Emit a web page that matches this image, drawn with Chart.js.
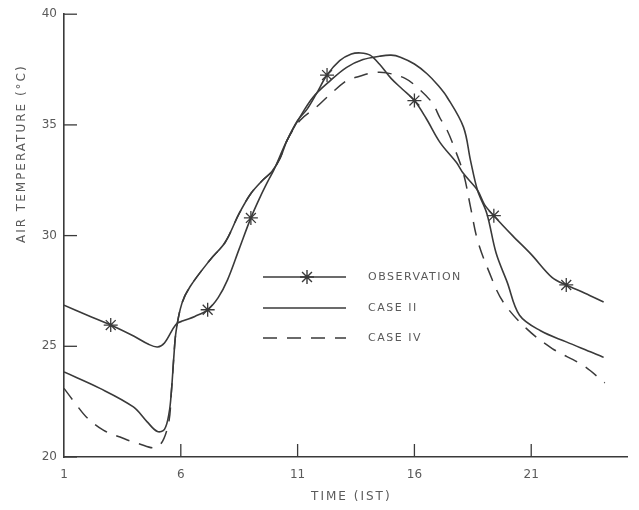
<!DOCTYPE html>
<html>
<head>
<meta charset="utf-8">
<script src="https://cdn.jsdelivr.net/npm/chart.js@4/dist/chart.umd.min.js"></script>
<style>
  body { margin: 0; background: #fff; }
  #wrap { width: 639px; height: 510px; }
</style>
</head>
<body>
<div id="wrap"><canvas id="chart" width="639" height="510"></canvas></div>
<script>
// hours (IST) and air temperature (deg C)
const obsHours = [1, 2, 3, 4, 4.6, 5.0, 5.3, 5.8, 6.1, 6.6, 7.15, 7.6, 8.0, 8.5, 9.0, 9.4, 9.75, 10.0, 10.5, 11.0, 11.4, 11.8, 12.26, 12.8, 13.3, 13.7, 14.1, 14.5, 15.0, 15.5, 16.0, 16.5, 17.1, 17.8, 18.1, 18.7, 19.0, 19.4, 20.2, 21.0, 21.9, 22.5, 23.3, 24.1];
const obsTemp = [26.86, 26.4, 25.96, 25.45, 25.1, 24.97, 25.15, 26.0, 26.15, 26.35, 26.65, 27.2, 28.0, 29.4, 30.8, 31.75, 32.5, 33.0, 34.2, 35.2, 35.7, 36.4, 37.25, 37.9, 38.2, 38.25, 38.15, 37.75, 37.1, 36.6, 36.1, 35.3, 34.2, 33.3, 32.8, 32.05, 31.4, 30.9, 30.0, 29.15, 28.1, 27.77, 27.4, 27.0];
const obsStarHours = [3, 7.15, 9.0, 12.26, 16.0, 19.4, 22.5];

const case2Hours = [1, 2.54, 3.97, 4.55, 5.0, 5.3, 5.5, 5.6, 5.7, 5.8, 6.05, 6.4, 7.25, 7.9, 8.5, 9.0, 9.5, 9.9, 10.25, 10.55, 11.1, 11.66, 12.4, 13.1, 13.8, 14.5, 15.0, 15.4, 16.0, 16.55, 17.0, 17.4, 18.1, 18.4, 18.7, 19.1, 19.5, 19.97, 20.5, 21.4, 22.5, 23.66, 24.1];
const case2Temp = [23.84, 23.1, 22.26, 21.6, 21.15, 21.25, 22.0, 23.0, 24.5, 25.7, 26.95, 27.7, 28.9, 29.7, 31.0, 31.9, 32.5, 32.9, 33.5, 34.3, 35.35, 36.25, 37.0, 37.6, 37.95, 38.1, 38.15, 38.06, 37.75, 37.3, 36.8, 36.25, 34.9, 33.4, 32.05, 31.0, 29.2, 27.9, 26.4, 25.7, 25.2, 24.7, 24.5];

const case4Hours = [1, 1.5, 2.0, 2.7, 3.4, 4.2, 5.0, 5.45, 5.6, 5.7, 5.8, 6.05, 6.4, 7.25, 7.9, 8.5, 9.0, 9.5, 9.9, 10.25, 10.55, 11.1, 11.8, 12.26, 13.1, 13.55, 14.2, 14.8, 15.6, 16.16, 16.76, 17.1, 17.4, 17.66, 18.1, 18.4, 18.7, 19.2, 19.8, 20.8, 21.9, 23.2, 24.15];
const case4Temp = [23.1, 22.4, 21.76, 21.2, 20.9, 20.6, 20.45, 21.4, 23.0, 24.5, 25.7, 26.95, 27.7, 28.9, 29.7, 31.0, 31.9, 32.5, 32.9, 33.5, 34.3, 35.2, 35.8, 36.25, 37.0, 37.16, 37.35, 37.35, 37.1, 36.66, 36.0, 35.3, 34.76, 34.1, 32.8, 31.3, 29.8, 28.35, 27.0, 25.8, 24.9, 24.15, 23.35];

const xTicks = [1, 6, 11, 16, 21];
const yTicks = [20, 25, 30, 35, 40];
const seriesLabels = ['OBSERVATION', 'CASE II', 'CASE IV'];

const ink = '#3a3a3a';
const textInk = '#5a5a5a';
const font = '"DejaVu Sans", sans-serif';

const pts = (xs, ys) => xs.map((x, i) => ({ x: x, y: ys[i] }));

// ticks point inward, titles and legend sit where the figure has them
const paperDecor = {
  id: 'paperDecor',
  afterDraw(chart) {
    const { ctx, chartArea, scales } = chart;
    const xs = scales.x, ys = scales.y;
    ctx.save();
    ctx.strokeStyle = ink;
    ctx.lineWidth = 1.3;
    yTicks.forEach(v => {
      const py = ys.getPixelForValue(v);
      ctx.beginPath(); ctx.moveTo(chartArea.left, py); ctx.lineTo(chartArea.left + 13, py); ctx.stroke();
    });
    xTicks.slice(1).forEach(v => {
      const px = xs.getPixelForValue(v);
      ctx.beginPath(); ctx.moveTo(px, chartArea.bottom); ctx.lineTo(px, chartArea.bottom - 13); ctx.stroke();
    });

    ctx.fillStyle = textInk;
    ctx.font = '12px ' + font;
    ctx.letterSpacing = '2px';
    ctx.textAlign = 'center';
    ctx.textBaseline = 'middle';
    ctx.fillText('TIME (IST)', xs.getPixelForValue(13.3), 497);
    ctx.save();
    ctx.translate(22, ys.getPixelForValue(33.7));
    ctx.rotate(-Math.PI / 2);
    ctx.fillText('AIR TEMPERATURE (°C)', 0, 0);
    ctx.restore();

    // legend
    const rows = [277, 308, 338];
    const x0 = 263, x1 = 346;
    chart.data.datasets.forEach((ds, i) => {
      const y = rows[i];
      ctx.strokeStyle = ds.borderColor;
      ctx.lineWidth = ds.borderWidth;
      ctx.setLineDash(ds.borderDash || []);
      ctx.beginPath(); ctx.moveTo(x0, y); ctx.lineTo(x1, y); ctx.stroke();
      ctx.setLineDash([]);
      if (i === 0) {
        const r = 7;
        ctx.lineWidth = 1.4;
        ctx.beginPath();
        for (let k = 0; k < 4; k++) {
          const a = k * Math.PI / 4;
          ctx.moveTo(307 - r * Math.cos(a), y - r * Math.sin(a));
          ctx.lineTo(307 + r * Math.cos(a), y + r * Math.sin(a));
        }
        ctx.stroke();
      }
      ctx.fillStyle = textInk;
      ctx.font = '11px ' + font;
      ctx.letterSpacing = '1.5px';
      ctx.textAlign = 'left';
      ctx.fillText(ds.label, 368, y);
    });
    ctx.restore();
  }
};

new Chart(document.getElementById('chart'), {
  type: 'line',
  data: {
    datasets: [
      {
        label: seriesLabels[0],
        data: pts(obsHours, obsTemp),
        borderColor: ink,
        borderWidth: 1.6,
        tension: 0.35,
        pointStyle: 'star',
        pointRadius: c => (c.raw && obsStarHours.includes(c.raw.x)) ? 7 : 0,
        pointBorderColor: ink,
        pointBorderWidth: 1.3,
        fill: false
      },
      {
        label: seriesLabels[1],
        data: pts(case2Hours, case2Temp),
        borderColor: ink,
        borderWidth: 1.6,
        tension: 0.35,
        pointRadius: 0,
        fill: false
      },
      {
        label: seriesLabels[2],
        data: pts(case4Hours, case4Temp),
        borderColor: ink,
        borderWidth: 1.5,
        borderDash: [14, 10],
        tension: 0.35,
        pointRadius: 0,
        fill: false
      }
    ]
  },
  options: {
    responsive: false,
    animation: false,
    layout: { padding: { top: 14, right: 12, left: 0, bottom: 0 } },
    plugins: { legend: { display: false }, tooltip: { enabled: false } },
    scales: {
      x: {
        type: 'linear',
        min: 1,
        max: 25.1,
        afterBuildTicks: s => { s.ticks = xTicks.map(v => ({ value: v })); },
        afterFit: s => { s.height = 53; },
        grid: { display: true, drawOnChartArea: false, drawTicks: false },
        border: { display: true, color: ink, width: 1.6 },
        ticks: { color: textInk, font: { family: font, size: 12 }, padding: 11, maxRotation: 0 }
      },
      y: {
        min: 20,
        max: 40,
        afterBuildTicks: s => { s.ticks = yTicks.map(v => ({ value: v })); },
        afterFit: s => { s.width = 64; },
        grid: { display: true, drawOnChartArea: false, drawTicks: false },
        border: { display: true, color: ink, width: 1.6 },
        ticks: { color: textInk, font: { family: font, size: 12 }, padding: 7 }
      }
    }
  },
  plugins: [paperDecor]
});
</script>
</body>
</html>
